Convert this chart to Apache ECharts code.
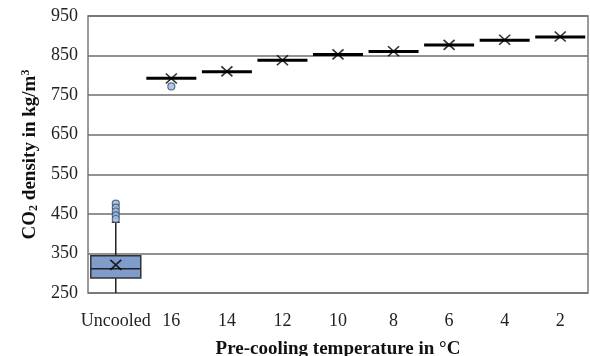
<!DOCTYPE html>
<html>
<head>
<meta charset="utf-8">
<script src="https://cdn.jsdelivr.net/npm/echarts@6/dist/echarts.min.js"></script>
<style>
  html, body { margin: 0; padding: 0; background: #fff; }
  #chart { width: 590px; height: 356px; }
</style>
</head>
<body>
<div id="chart"></div>
<script>
// categories on the x axis
var categories = ['Uncooled', '16', '14', '12', '10', '8', '6', '4', '2'];
// box statistics per category (kg/m3)
var whiskerLow = [250, 793, 809, 838, 853, 860, 877, 889, 897];
var q1 = [288, 793, 809, 838, 853, 860, 877, 889, 897];
var median = [311, 793, 809, 838, 853, 860, 877, 889, 897];
var q3 = [344, 793, 809, 838, 853, 860, 877, 889, 897];
var whiskerHigh = [429, 793, 809, 838, 853, 860, 877, 889, 897];
var means = [321, 792, 810, 838, 853, 861, 877, 890, 898];
// outliers: [category index, value]
var outliers = [[0, 476], [0, 466], [0, 456], [0, 446], [0, 437], [1, 772]];
var yTicks = [250, 350, 450, 550, 650, 750, 850, 950];

var boxData = categories.map(function(c, i) {
    return [i, whiskerLow[i], q1[i], median[i], q3[i], whiskerHigh[i]];
});

var myChart = echarts.init(document.getElementById('chart'));

var serif = '"Liberation Serif", "Times New Roman", serif';

option = {
    animation: false,
    grid: {
        left: 88,
        right: 2,
        top: 16,
        bottom: 63,
        outerBoundsMode: 'none',
        containLabel: false,
        show: true,
        borderColor: '#7a7a7a',
        borderWidth: 1.5
    },
    xAxis: {
        type: 'category',
        data: categories,
        name: 'Pre-cooling temperature in °C',
        nameLocation: 'middle',
        nameGap: 47,
        nameTextStyle: {fontFamily: serif, fontWeight: 'bold', fontSize: 19, color: '#111'},
        axisLine: {show: false},
        axisTick: {show: false},
        axisLabel: {interval: 0, margin: 19, fontFamily: serif, fontSize: 18, color: '#222'},
        splitLine: {show: false}
    },
    yAxis: {
        type: 'value',
        min: yTicks[0],
        max: yTicks[yTicks.length - 1],
        interval: 100,
        name: 'CO{sub|2} density in kg/m{sup|3}',
        nameLocation: 'middle',
        nameGap: 46,
        nameTextStyle: {
            fontFamily: serif, fontWeight: 'bold', fontSize: 19, color: '#111',
            rich: {
                sub: {fontFamily: serif, fontWeight: 'bold', fontSize: 12, color: '#111', padding: [8, 0, 0, 0]},
                sup: {fontFamily: serif, fontWeight: 'bold', fontSize: 12, color: '#111', padding: [0, 0, 8, 0]}
            }
        },
        axisLine: {show: false},
        axisTick: {show: false},
        axisLabel: {margin: 10, fontFamily: serif, fontSize: 18, color: '#222'},
        splitLine: {lineStyle: {color: '#6e6e6e', width: 1.5}}
    },
    series: [
        {
            type: 'custom',
            clip: true,
            z: 3,
            data: boxData,
            renderItem: function(params, api) {
                var x = api.value(0);
                var bw = api.size([1, 0])[0] * 0.9;
                var lo = api.coord([x, api.value(1)]);
                var b1 = api.coord([x, api.value(2)]);
                var md = api.coord([x, api.value(3)]);
                var b3 = api.coord([x, api.value(4)]);
                var hi = api.coord([x, api.value(5)]);
                var cx = lo[0];
                if (api.value(2) === api.value(4)) {
                    return {
                        type: 'line',
                        shape: {x1: cx - bw / 2, y1: md[1], x2: cx + bw / 2, y2: md[1]},
                        style: {stroke: '#000', lineWidth: 3}
                    };
                }
                return {
                    type: 'group',
                    children: [
                        {type: 'line', shape: {x1: cx, y1: lo[1], x2: cx, y2: hi[1]},
                            style: {stroke: '#222', lineWidth: 1.5}},
                        {type: 'line', shape: {x1: cx - 4, y1: hi[1], x2: cx + 4, y2: hi[1]},
                            style: {stroke: '#222', lineWidth: 1.5}},
                        {type: 'rect', shape: {x: cx - bw / 2, y: b3[1], width: bw, height: b1[1] - b3[1]},
                            style: {fill: '#7f9ccb', stroke: '#333', lineWidth: 1.5}},
                        {type: 'line', shape: {x1: cx - bw / 2, y1: md[1], x2: cx + bw / 2, y2: md[1]},
                            style: {stroke: '#222', lineWidth: 1.5}}
                    ]
                };
            }
        },
        {
            type: 'scatter',
            z: 4,
            symbol: 'path://M0,0L10,10M10,0L0,10',
            symbolSize: [11, 10],
            itemStyle: {color: 'transparent', borderColor: '#000', borderWidth: 1.6},
            data: means.map(function(v, i) { return [i, v]; })
        },
        {
            type: 'scatter',
            z: 5,
            symbol: 'circle',
            symbolSize: 7,
            itemStyle: {color: '#9cbde6', borderColor: '#3d4d66', borderWidth: 1.2},
            data: outliers
        }
    ]
};

myChart.setOption(option);
</script>
</body>
</html>
